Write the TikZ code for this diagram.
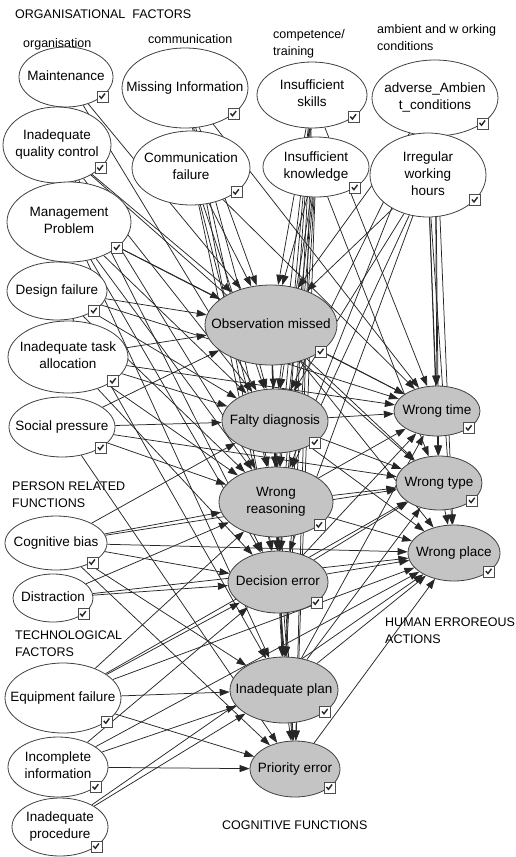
\documentclass[tikz,border=0pt]{standalone}
\usepackage{fontspec}
\setmainfont{Liberation Sans}
\usetikzlibrary{shapes.geometric, arrows.meta, backgrounds}

% text of a node, kept from widening the ellipse
\newcommand{\lbl}[1]{\makebox[0pt]{\begin{tabular}{@{}c@{}}#1\end{tabular}}}

\begin{document}
\begin{tikzpicture}[x=1pt, y=-1pt,
    font=\fontsize{13.5}{17}\selectfont,
    fac/.style={ellipse, draw=black!75, line width=0.8pt, fill=white, inner sep=0pt},
    cogn/.style={fac, fill=black!23},
    head/.style={font=\fontsize{12.5}{17}\selectfont, align=left, inner sep=0pt},
    chk/.style={draw=black!70, fill=white, line width=0.6pt, minimum size=11pt, inner sep=0pt,
      path picture={\draw[black!85, line width=1.4pt]
        ([shift={(-3.2pt,0.5pt)}]path picture bounding box.center) -- ++(2.1pt,-2.4pt) -- ++(3.6pt,4.8pt);}},
    dep/.style={draw=black!85, line width=0.75pt, -{Triangle[length=10pt, width=7pt]}}]
    \useasboundingbox (0,0) rectangle (515,857);

    % --- group titles ---
    \node[head, anchor=west] (orgfac) at (15,14) {ORGANISATIONAL\ \ FACTORS};
    \node[head, anchor=west] (orgn) at (23,44) {organisation};
    \node[head, anchor=west] (commn) at (148,39) {communication};
    \node[head, anchor=west] (compt) at (273,44) {competence/\\training};
    \node[head, anchor=west] (ambwk) at (377,38) {ambient and w orking\\conditions};
    \node[head, anchor=west] (persf) at (12,495) {PERSON RELATED\\FUNCTIONS};
    \node[head, anchor=west] (techf) at (15,644) {TECHNOLOGICAL\\FACTORS};
    \node[head, anchor=west] (humact) at (385,631) {HUMAN ERROREOUS\\ACTIONS};
    \node[head, anchor=west] (cogfn) at (222,825) {COGNITIVE FUNCTIONS};

    % --- factors ---
    \node[fac, minimum width=94, minimum height=60] (mnt) at (66,77) {\lbl{Maintenance}};
    \node[fac, minimum width=126, minimum height=80] (mis) at (185,88) {\lbl{Missing Information}};
    \node[fac, minimum width=110, minimum height=66] (skl) at (312,95) {\lbl{Insufficient\\skills}};
    \node[fac, minimum width=126, minimum height=76] (amb) at (435,98) {\lbl{adverse\_Ambien\\t\_conditions}};
    \node[fac, minimum width=108, minimum height=76] (qc) at (57,145) {\lbl{Inadequate\\quality control}};
    \node[fac, minimum width=118, minimum height=74] (com) at (191,168) {\lbl{Communication\\failure}};
    \node[fac, minimum width=106, minimum height=60] (knw) at (316,167) {\lbl{Insufficient\\knowledge}};
    \node[fac, minimum width=116, minimum height=84] (irr) at (428,175) {\lbl{Irregular\\working\\hours}};
    \node[fac, minimum width=124, minimum height=80] (mgt) at (69,222) {\lbl{Management\\Problem}};
    \node[fac, minimum width=100, minimum height=58] (des) at (57,291) {\lbl{Design failure}};
    \node[fac, minimum width=120, minimum height=72] (tsk) at (68,357) {\lbl{Inadequate task\\allocation}};
    \node[fac, minimum width=106, minimum height=60] (soc) at (62,427) {\lbl{Social pressure}};
    \node[fac, minimum width=102, minimum height=54] (cog) at (56,543) {\lbl{Cognitive bias}};
    \node[fac, minimum width=80, minimum height=48] (dis) at (53,598) {\lbl{Distraction}};
    \node[fac, minimum width=116, minimum height=70] (eqp) at (63,698) {\lbl{Equipment failure}};
    \node[fac, minimum width=100, minimum height=60] (inc) at (58,767) {\lbl{Incomplete\\information}};
    \node[fac, minimum width=96, minimum height=58] (prc) at (60,827) {\lbl{Inadequate\\procedure}};

    % --- cognitive functions ---
    \node[cogn, minimum width=132, minimum height=80] (obs) at (271,325) {\lbl{Observation missed}};
    \node[cogn, minimum width=106, minimum height=64] (dia) at (275,421) {\lbl{Falty diagnosis}};
    \node[cogn, minimum width=114, minimum height=70] (rea) at (276,502) {\lbl{Wrong\\reasoning}};
    \node[cogn, minimum width=100, minimum height=62] (dec) at (278,582) {\lbl{Decision error}};
    \node[cogn, minimum width=108, minimum height=66] (pla) at (284,690) {\lbl{Inadequate plan}};
    \node[cogn, minimum width=90, minimum height=56] (pri) at (295,769) {\lbl{Priority error}};

    % --- erroneous actions ---
    \node[cogn, minimum width=86, minimum height=50] (wti) at (437,411) {\lbl{Wrong time}};
    \node[cogn, minimum width=86, minimum height=54] (wty) at (439,483) {\lbl{Wrong type}};
    \node[cogn, minimum width=92, minimum height=56] (wpl) at (454,553) {\lbl{Wrong place}};

    % check boxes
    \foreach \n in {mnt,mis,skl,amb,qc,com,knw,irr,mgt,des,tsk,soc,cog,dis,eqp,inc,prc,
                    obs,dia,rea,dec,pla,pri,wti,wty,wpl}
        \node[chk] (\n-ok) at (\n.-28) {};

    % --- influences ---
    \begin{scope}[on background layer]
        \foreach \s in {mnt,qc,mis,com,skl,knw,amb,irr,mgt,des,tsk,soc}
            \draw[dep] (\s) -- (obs);
        \foreach \s in {mnt,qc,mis,com,skl,knw,amb,irr,mgt,des,tsk,soc,cog,obs}
            \draw[dep] (\s) -- (dia);
        \foreach \s in {qc,mis,com,skl,knw,amb,irr,mgt,des,tsk,soc,cog,dis,eqp,obs,dia}
            \draw[dep] (\s) -- (rea);
        \foreach \s in {qc,mis,com,skl,knw,irr,mgt,tsk,cog,dis,eqp,inc,obs,dia,rea}
            \draw[dep] (\s) -- (dec);
        \foreach \s in {mgt,des,skl,knw,cog,eqp,inc,prc,obs,dia,rea,dec}
            \draw[dep] (\s) -- (pla);
        \foreach \s in {skl,knw,soc,cog,eqp,inc,dia,rea,dec,pla}
            \draw[dep] (\s) -- (pri);
        \foreach \s in {mis,com,skl,amb,irr,mgt,des,tsk,obs,dia,rea,dec,pla}
            \draw[dep] (\s) -- (wti);
        \foreach \s in {qc,knw,amb,irr,soc,cog,eqp,obs,dia,rea,dec,pla,wti}
            \draw[dep] (\s) -- (wty);
        \foreach \s in {amb,irr,cog,dis,eqp,inc,prc,obs,dia,rea,dec,pla,pri,wty}
            \draw[dep] (\s) -- (wpl);
    \end{scope}
\end{tikzpicture}
\end{document}
